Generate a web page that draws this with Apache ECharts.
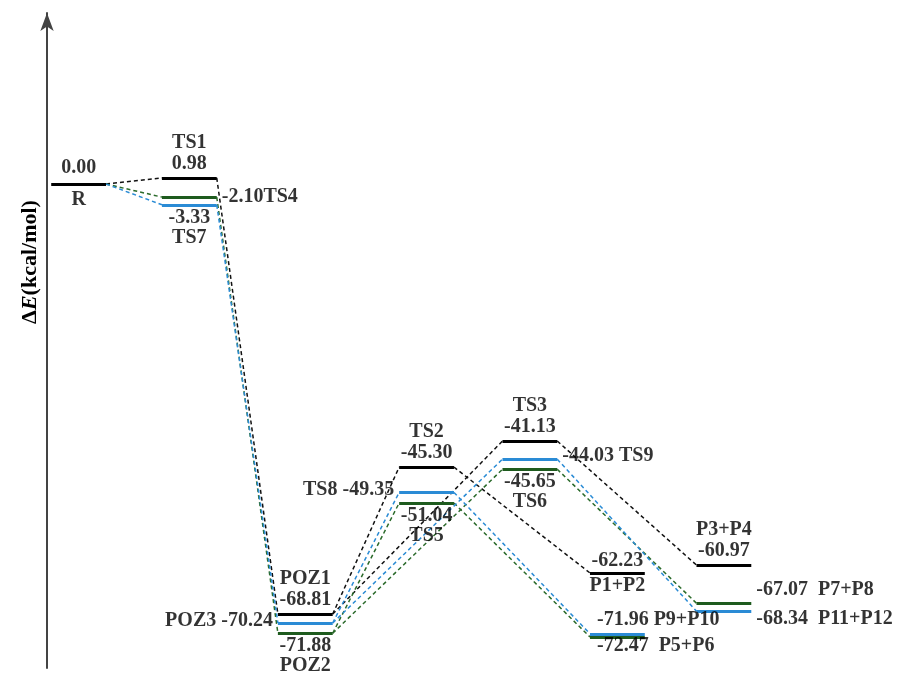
<!DOCTYPE html>
<html>
<head>
<meta charset="utf-8">
<script src="https://cdn.jsdelivr.net/npm/echarts@6/dist/echarts.min.js"></script>
<style>
	html, body { margin: 0; padding: 0; background: #fff; }
	#chart { width: 901px; height: 675px; }
</style>
</head>
<body>
<div id="chart"></div>
<script>
// reaction stages (reaction coordinate of each column)
const stages = ['R', 'TS(a)', 'POZ', 'TS(b)', 'TS(c)', 'P(b)', 'P(c)'];
const stageX = [0.30, 1.35, 2.45, 3.60, 4.58, 5.41, 6.42];
// which stage connects to which
const links = [[0, 1], [1, 2], [2, 3], [2, 4], [3, 5], [4, 6]];

// three pathways, energies in kcal/mol
const blackNames = ['R', 'TS1', 'POZ1', 'TS2', 'TS3', 'P1+P2', 'P3+P4'];
const blackEnergy = [0.00, 0.98, -68.81, -45.30, -41.13, -62.23, -60.97];
const greenNames = ['R', 'TS4', 'POZ2', 'TS5', 'TS6', 'P5+P6', 'P7+P8'];
const greenEnergy = [0.00, -2.10, -71.88, -51.04, -45.65, -72.47, -67.07];
const blueNames = ['R', 'TS7', 'POZ3', 'TS8', 'TS9', 'P9+P10', 'P11+P12'];
const blueEnergy = [0.00, -3.33, -70.24, -49.35, -44.03, -71.96, -68.34];

const yTitle = '{a|Δ}{i|E}{a|(kcal/mol)}';

// styles
const halfWidth = 0.26;
const font = {fontFamily: 'Liberation Serif', fontWeight: 'bold', fontSize: 20, color: '#000'};
const paths = [
	{names: blackNames, energy: blackEnergy, color: '#000000', dash: '#111111'},
	{names: greenNames, energy: greenEnergy, color: '#1e5b1e', dash: '#2a6a2a'},
	{names: blueNames, energy: blueEnergy, color: '#2a8bd5', dash: '#2a8bd5'}
];
// where each label sits around its level
const labelSpec = {
	'R': {kind: 'split', gap: 16},
	'TS1': {kind: 'above'},
	'TS4': {kind: 'right', sep: '', dy: 0},
	'TS7': {kind: 'below'},
	'POZ1': {kind: 'above'},
	'POZ2': {kind: 'below'},
	'POZ3': {kind: 'left', dy: -2},
	'TS2': {kind: 'above'},
	'TS5': {kind: 'below'},
	'TS8': {kind: 'left', dy: -3},
	'TS3': {kind: 'above'},
	'TS6': {kind: 'below'},
	'TS9': {kind: 'right', sep: ' ', dy: -3},
	'P1+P2': {kind: 'split', gap: 12.5},
	'P5+P6': {kind: 'row', sep: '  ', dy: 9},
	'P9+P10': {kind: 'row', sep: ' ', dy: -14},
	'P3+P4': {kind: 'above'},
	'P7+P8': {kind: 'right', sep: '  ', dy: -13},
	'P11+P12': {kind: 'right', sep: '  ', dy: 8}
};

function makeLabel(name, e, s){
	let spec = labelSpec[name];
	let v = e.toFixed(2);
	let x = stageX[s];
	let label = Object.assign({show: true, position: 'inside', verticalAlign: 'middle'}, font);
	if(spec.kind === 'above'){
		Object.assign(label, {formatter: `${name}\n${v}`, lineHeight: 21, align: 'center', offset: [0, -25]});
	}else if(spec.kind === 'below'){
		Object.assign(label, {formatter: `${v}\n${name}`, lineHeight: 20, align: 'center', offset: [0, 23]});
	}else if(spec.kind === 'split'){
		Object.assign(label, {formatter: `${v}\n${name}`, lineHeight: spec.gap * 2, align: 'center', offset: [0, 0]});
	}else if(spec.kind === 'right'){
		x = x + halfWidth;
		Object.assign(label, {formatter: `${v}${spec.sep}${name}`, align: 'left', offset: [5, spec.dy]});
	}else if(spec.kind === 'left'){
		x = x - halfWidth;
		Object.assign(label, {formatter: `${name} ${v}`, align: 'right', offset: [-5, spec.dy]});
	}else if(spec.kind === 'row'){
		x = x - halfWidth;
		Object.assign(label, {formatter: `${v}${spec.sep}${name}`, align: 'left', offset: [7, spec.dy]});
	}
	return {value: [x, e], label: label};
}

const series = [];
// dashed connectors
paths.forEach(p => {
	series.push({
		type: 'lines',
		coordinateSystem: 'cartesian2d',
		z: 1,
		silent: true,
		lineStyle: {color: p.dash, width: 1.5, type: [4, 3], opacity: 1},
		data: links.map(([a, b]) => ({
			coords: [[stageX[a] + halfWidth, p.energy[a]], [stageX[b] - halfWidth, p.energy[b]]]
		}))
	});
});
// energy levels (R drawn once)
paths.forEach((p, pi) => {
	series.push({
		type: 'lines',
		coordinateSystem: 'cartesian2d',
		z: 3,
		silent: true,
		lineStyle: {color: p.color, width: 3, type: 'solid', opacity: 1},
		data: p.energy
			.map((e, s) => ({coords: [[stageX[s] - halfWidth, e], [stageX[s] + halfWidth, e]]}))
			.filter((d, s) => pi === 0 || s > 0)
	});
});
// labels
const labelData = [];
paths.forEach((p, pi) => {
	p.names.forEach((n, s) => {
		if(pi > 0 && s === 0) return;
		labelData.push(makeLabel(n, p.energy[s], s));
	});
});
series.push({
	type: 'scatter',
	z: 5,
	silent: true,
	symbolSize: 1,
	itemStyle: {color: 'transparent'},
	data: labelData
});

const chart = echarts.init(document.getElementById('chart'), null, {renderer: 'canvas'});
chart.setOption({
	animation: false,
	backgroundColor: '#fff',
	grid: {left: 47, right: 0, top: 13, bottom: 7},
	xAxis: {type: 'value', min: 0, max: 8.1, show: false},
	yAxis: {
		type: 'value',
		min: -77.44,
		max: 27.36,
		axisLine: {
			show: true,
			symbol: ['none', 'arrow'],
			symbolSize: [10, 18],
			lineStyle: {color: '#444', width: 2}
		},
		axisTick: {show: false},
		axisLabel: {show: false},
		splitLine: {show: false}
	},
	graphic: [{
		type: 'text',
		x: 30,
		y: 262,
		rotation: Math.PI / 2,
		style: {
			text: yTitle,
			align: 'center',
			verticalAlign: 'middle',
			rich: {
				a: {fontFamily: 'Liberation Serif', fontWeight: 'bold', fontSize: 22, fill: '#000'},
				i: {fontFamily: 'Liberation Serif', fontWeight: 'bold', fontStyle: 'italic', fontSize: 22, fill: '#000'}
			}
		}
	}],
	series: series
});
</script>
</body>
</html>
